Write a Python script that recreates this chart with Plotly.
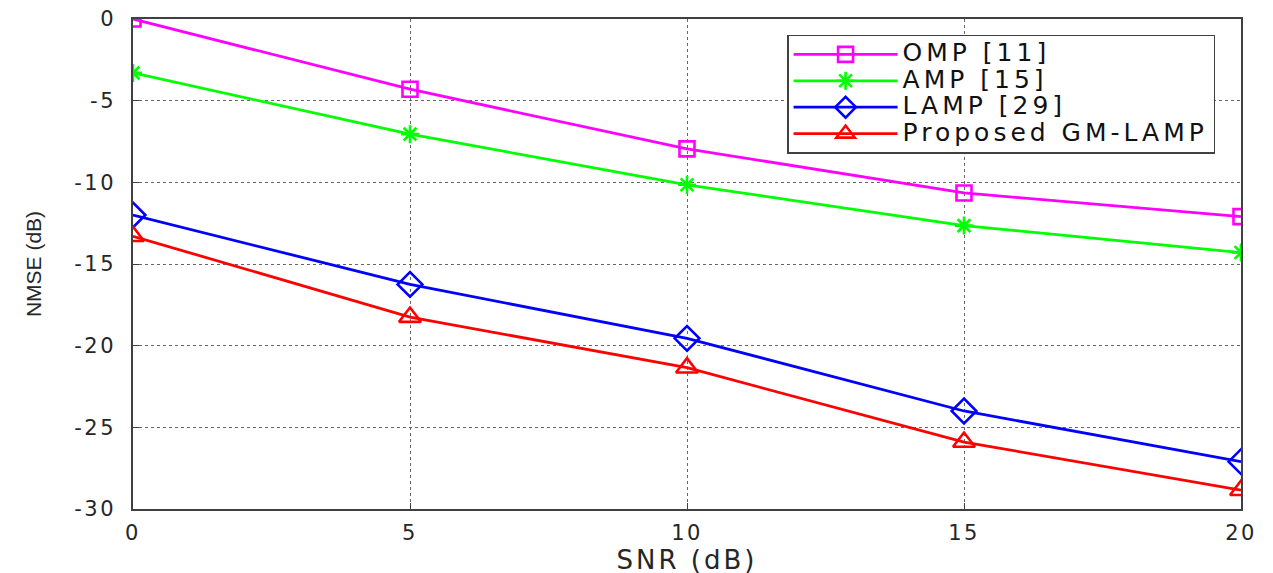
import plotly.graph_objects as go

snr = [0, 5, 10, 15, 20]
omp = [0.0, -4.3, -7.95, -10.65, -12.1]
amp = [-3.3, -7.05, -10.15, -12.65, -14.3]
lamp = [-12.0, -16.25, -19.55, -24.0, -27.1]
gmlamp = [-13.3, -18.25, -21.35, -25.9, -28.85]

names = ["OMP [11]", "AMP [15]", "LAMP [29]", "Proposed GM-LAMP"]
colors = ["#ff00ff", "#00ff00", "#0000ff", "#ff0000"]
symbols = ["square-open", "asterisk-open", "diamond-open", "triangle-up-open"]
msizes = [15, 15, 19, 19]
series = [omp, amp, lamp, gmlamp]

ytickvals = [0, -5, -10, -15, -20, -25, -30]
yticktext = ["0", "-5", "-10", "-15", "-20", "-25", "-30"]
xtickvals = [0, 5, 10, 15, 20]
xticktext = ["0", "5", "10", "15", "20"]


def wide(t, ls, size=None):
    st = "letter-spacing:%spx" % ls
    if size:
        st += ";font-size:%dpx" % size
    return '<span style="%s">%s</span>' % (st, t)


TXT = "#262626"
fig = go.Figure()
for name, ys, c, s, ms in zip(names, series, colors, symbols, msizes):
    fig.add_trace(go.Scatter(
        x=snr, y=ys, name=wide(name, 4, 25), mode="lines+markers",
        line=dict(color=c, width=2.8),
        marker=dict(symbol=s, size=ms, color=c, line=dict(color=c, width=2.6)),
    ))

axis_common = dict(
    showline=True, linecolor="#404040", linewidth=1.5, mirror=True,
    showgrid=True, gridcolor="#666666", griddash="dot", gridwidth=1,
    ticks="inside", ticklen=6, tickcolor="#404040",
    zeroline=False, automargin=False, ticklabeloverflow="allow",
    tickfont=dict(family="DejaVu Sans", size=21, color=TXT),
)

fig.update_xaxes(range=[0, 20], tickvals=xtickvals,
                 ticktext=[wide(t, 2.5) for t in xticktext], ticklabelstandoff=4,
                 title=dict(text=wide("SNR (dB)", 3),
                            font=dict(family="DejaVu Sans", size=26, color=TXT), standoff=1),
                 **axis_common)
fig.update_yaxes(range=[-30, 0], tickvals=ytickvals,
                 ticktext=[wide(t, 2.5) for t in yticktext], ticklabelstandoff=11,
                 title=dict(text="NMSE (dB)",
                            font=dict(family="Liberation Sans", size=21, color=TXT), standoff=27),
                 **axis_common)

fig.update_layout(
    width=1273, height=573,
    margin=dict(l=125, r=40, t=11, b=72),
    plot_bgcolor="white", paper_bgcolor="white",
    font=dict(family="DejaVu Sans", color=TXT),
    legend=dict(
        x=0.9766, y=0.968, xanchor="right", yanchor="top",
        bgcolor="white", bordercolor="#404040", borderwidth=1.5,
        font=dict(family="DejaVu Sans", size=18, color="#111111"),
        itemwidth=104, tracegroupgap=0,
    ),
    showlegend=True,
)

fig.write_html("out.html")
